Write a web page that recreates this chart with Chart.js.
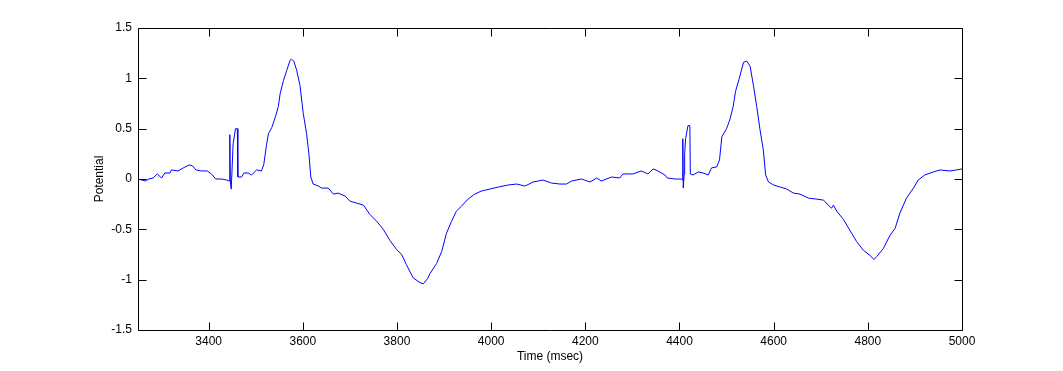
<!DOCTYPE html>
<html>
<head>
<meta charset="utf-8">
<script src="https://cdn.jsdelivr.net/npm/chart.js@4/dist/chart.umd.min.js"></script>
<style>
html,body{margin:0;padding:0;background:#fff;}
#wrap{width:1063px;height:371px;}
</style>
</head>
<body>
<div id="wrap"><canvas id="c" width="1063" height="371"></canvas></div>
<script>
const timeMs = [3250,3258,3265,3273,3282,3291,3300,3307,3318,3321,3335,3346,3359,3366,3373,3385,3397,3406,3415,3428,3438,3444,3445,3446,3448,3452,3457,3461,3462,3470,3475,3484,3491,3502,3512,3517,3523,3527,3534,3542,3548,3552,3559,3566,3573,3576,3581,3587,3594,3601,3608,3613,3617,3622,3633,3640,3654,3665,3675,3690,3700,3715,3729,3742,3757,3771,3785,3799,3810,3820,3834,3849,3856,3865,3870,3884,3895,3905,3916,3926,3937,3951,3965,3979,3997,4015,4036,4054,4072,4089,4110,4128,4146,4160,4171,4192,4210,4224,4234,4256,4273,4280,4301,4319,4333,4344,4354,4369,4374,4390,4404,4406,4407,4408,4410,4411,4413,4418,4422,4423,4429,4440,4450,4461,4468,4479,4485,4490,4500,4507,4514,4519,4527,4536,4543,4550,4557,4564,4571,4578,4583,4589,4600,4614,4628,4642,4656,4674,4692,4706,4716,4723,4727,4734,4748,4762,4776,4791,4805,4813,4819,4833,4847,4858,4868,4882,4897,4907,4921,4939,4953,4974,4988,5000];
const potential = [0.00,-0.01,-0.02,0.00,0.01,0.05,0.01,0.06,0.06,0.09,0.08,0.11,0.14,0.13,0.09,0.08,0.08,0.05,0.00,0.00,-0.01,-0.02,0.44,-0.02,-0.10,0.35,0.50,0.50,0.02,0.02,0.06,0.06,0.04,0.09,0.08,0.14,0.34,0.45,0.51,0.62,0.72,0.85,0.98,1.08,1.18,1.19,1.17,1.08,0.93,0.65,0.45,0.25,0.02,-0.05,-0.07,-0.09,-0.09,-0.15,-0.14,-0.17,-0.22,-0.24,-0.26,-0.35,-0.42,-0.50,-0.61,-0.70,-0.75,-0.85,-0.98,-1.03,-1.04,-0.99,-0.94,-0.84,-0.72,-0.54,-0.42,-0.32,-0.27,-0.20,-0.15,-0.12,-0.10,-0.08,-0.06,-0.05,-0.07,-0.03,-0.01,-0.04,-0.05,-0.05,-0.02,0.00,-0.03,0.01,-0.02,0.02,0.01,0.05,0.05,0.08,0.05,0.10,0.08,0.04,0.01,0.00,0.00,-0.01,0.40,-0.09,0.05,0.25,0.40,0.53,0.53,0.05,0.04,0.07,0.06,0.04,0.11,0.12,0.19,0.42,0.50,0.59,0.72,0.87,1.00,1.16,1.17,1.12,0.93,0.72,0.49,0.29,0.04,-0.03,-0.06,-0.08,-0.10,-0.14,-0.15,-0.19,-0.20,-0.21,-0.26,-0.29,-0.26,-0.32,-0.40,-0.51,-0.62,-0.71,-0.76,-0.80,-0.77,-0.69,-0.56,-0.49,-0.34,-0.19,-0.09,-0.01,0.04,0.07,0.09,0.08,0.09,0.10];
const xTicks = [3400,3600,3800,4000,4200,4400,4600,4800,5000];
const yTicks = [-1.5,-1,-0.5,0,0.5,1,1.5];
const xLabel = 'Time (msec)';
const yLabel = 'Potential';

const points = timeMs.map((t,i)=>({x:t,y:potential[i]}));
const FONT = {family:'"Liberation Sans", Arial, Helvetica, sans-serif', size:12};

const frameTicks = {
  id:'frameTicks',
  afterDatasetsDraw(chart){
    const {ctx, chartArea:a, scales:{x,y}} = chart;
    ctx.save();
    ctx.strokeStyle = '#000';
    ctx.lineWidth = 1;
    ctx.beginPath();
    const L = Math.round(a.left)+0.5, R = Math.round(a.right)+0.5, T = Math.round(a.top)+0.5, B = Math.round(a.bottom)+0.5;
    ctx.rect(L, T, R-L, B-T);
    const tl = 8;
    xTicks.forEach(v=>{
      const px = Math.round(x.getPixelForValue(v))+0.5;
      ctx.moveTo(px,B); ctx.lineTo(px,B-tl);
      ctx.moveTo(px,T); ctx.lineTo(px,T+tl);
    });
    yTicks.forEach(v=>{
      const py = Math.round(y.getPixelForValue(v))+0.5;
      ctx.moveTo(L,py); ctx.lineTo(L+tl,py);
      ctx.moveTo(R,py); ctx.lineTo(R-tl,py);
    });
    ctx.stroke();
    ctx.restore();
  }
};

new Chart(document.getElementById('c'), {
  type:'line',
  data:{datasets:[{data:points,borderColor:'#0000ff',borderWidth:1,pointRadius:0,tension:0,fill:false}]},
  options:{
    responsive:false,
    animation:false,
    events:[],
    layout:{padding:{left:0,top:28,right:101,bottom:0}},
    plugins:{legend:{display:false},tooltip:{enabled:false}},
    scales:{
      x:{
        type:'linear', min:3250, max:5000,
        afterBuildTicks(s){ s.ticks = xTicks.map(v=>({value:v})); },
        afterFit(s){ s.height = 41; },
        grid:{display:false, drawTicks:false, tickLength:0}, border:{display:false},
        ticks:{color:'#000', font:FONT, padding:4, maxRotation:0, autoSkip:false, callback:v=>String(v)},
        title:{display:true, text:xLabel, color:'#000', font:FONT, padding:{top:0,bottom:7}}
      },
      y:{
        type:'linear', min:-1.5, max:1.5,
        afterBuildTicks(s){ s.ticks = yTicks.map(v=>({value:v})); },
        afterFit(s){ s.width = 138; },
        grid:{display:false, drawTicks:false, tickLength:0}, border:{display:false},
        ticks:{color:'#000', font:FONT, padding:6, autoSkip:false, callback:v=>String(v)},
        title:{display:true, text:yLabel, color:'#000', font:FONT, padding:{top:92,bottom:0}}
      }
    }
  },
  plugins:[frameTicks]
});
</script>
</body>
</html>
